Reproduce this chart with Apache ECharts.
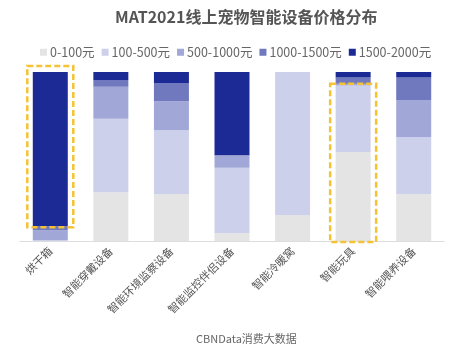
<!DOCTYPE html>
<html>
<head>
<meta charset="utf-8">
<script src="https://cdn.jsdelivr.net/npm/echarts@6/dist/echarts.min.js"></script>
<style>
  html, body { margin: 0; padding: 0; background: #fff; }
  #chart { width: 459px; height: 351px; }
</style>
</head>
<body>
<div id="chart"></div>
<script>
// 品类
var categories = ['烘干箱', '智能穿戴设备', '智能环境监察设备', '智能监控伴侣设备', '智能冷暖窝', '智能玩具', '智能喂养设备'];
// 各价格段占比 (%)
var p0_100 = [0, 28.8, 27.8, 4.6, 15.4, 52.7, 27.6];
var p100_500 = [0.6, 43.6, 37.7, 38.8, 84.6, 39.3, 33.9];
var p500_1000 = [5.8, 18.9, 17.2, 7.3, 0, 1, 21.9];
var p1000_1500 = [2.4, 4.0, 10.8, 0, 0, 3.8, 13.4];
var p1500_2000 = [91.2, 4.7, 6.5, 49.3, 0, 3.2, 3.2];
var seriesNames = ['0-100元', '100-500元', '500-1000元', '1000-1500元', '1500-2000元'];
var colors = ['#e4e4e4', '#cdd0ea', '#a1a7d6', '#7079bd', '#1c2a95'];
// 黄色虚线框标注的品类
var highlighted = ['烘干箱', '智能玩具'];

var myChart = echarts.init(document.getElementById('chart'));
var allData = [p0_100, p100_500, p500_1000, p1000_1500, p1500_2000];

var series = allData.map(function (d, i) {
  return {
    name: seriesNames[i],
    type: 'bar',
    stack: 'total',
    barWidth: 35,
    data: d,
    itemStyle: { color: colors[i] }
  };
});

var option = {
  animation: false,
  color: colors,
  title: {
    text: 'MAT2021线上宠物智能设备价格分布',
    left: 110,
    top: 4,
    textStyle: { fontSize: 16, fontWeight: 'bold', color: '#555', fontFamily: 'Noto Sans CJK SC' }
  },
  legend: {
    top: 41,
    left: 35,
    itemWidth: 7,
    itemHeight: 7,
    itemGap: 7,
    icon: 'rect',
    textStyle: { fontSize: 12.5, color: '#666', padding: [0, 0, 0, -2], fontFamily: 'Noto Sans CJK SC' },
    data: seriesNames
  },
  grid: { left: 20, right: 15, top: 72, bottom: 110 },
  xAxis: {
    type: 'category',
    data: categories,
    axisLine: { lineStyle: { color: '#ddd' } },
    axisTick: { show: false },
    axisLabel: { rotate: 45, fontSize: 11, color: '#555', interval: 0, margin: 8, fontFamily: 'Noto Sans CJK SC' }
  },
  yAxis: {
    type: 'value',
    min: 0,
    max: 100,
    show: false,
    splitLine: { show: false }
  },
  series: series,
  graphic: [{
    type: 'text',
    left: 196,
    top: 333,
    style: { text: 'CBNData消费大数据', fontSize: 11, fill: '#666', fontFamily: 'Noto Sans CJK SC' }
  }]
};
myChart.setOption(option);

// 虚线框
var boxes = [];
highlighted.forEach(function (name) {
  var idx = categories.indexOf(name);
  var cx = myChart.convertToPixel({ xAxisIndex: 0 }, name);
  var topVal = idx === 0 ? 100 : p0_100[idx] + p100_500[idx] + p500_1000[idx];
  var botVal = idx === 0 ? p0_100[idx] + p100_500[idx] + p500_1000[idx] + p1000_1500[idx] : 0;
  var yTop = myChart.convertToPixel({ yAxisIndex: 0 }, topVal) - (idx === 0 ? 6 : 0);
  var yBot = myChart.convertToPixel({ yAxisIndex: 0 }, botVal) + 1;
  boxes.push({
    type: 'rect',
    shape: { x: cx - 23, y: yTop, width: 46, height: yBot - yTop },
    style: { fill: 'none', stroke: '#f6c234', lineWidth: 2.5, lineDash: [6, 3] },
    z: 100
  });
});
myChart.setOption({ graphic: option.graphic.concat(boxes) });
</script>
</body>
</html>
